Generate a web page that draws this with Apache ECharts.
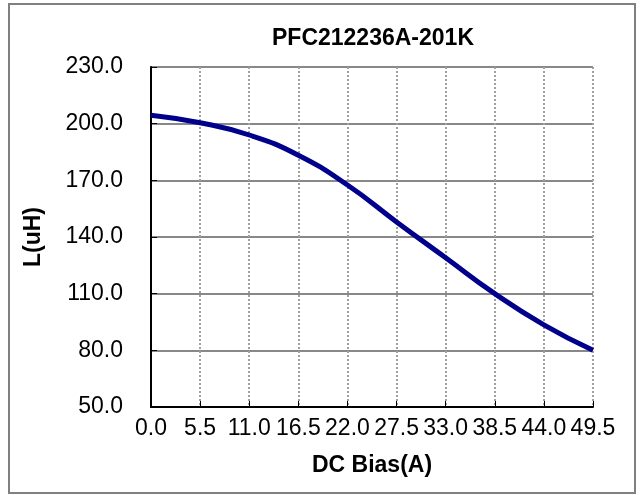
<!DOCTYPE html>
<html>
<head>
<meta charset="utf-8">
<script src="https://cdn.jsdelivr.net/npm/echarts@6/dist/echarts.min.js"></script>
<style>
  html, body { margin: 0; padding: 0; background: #fff; }
  #chart { width: 641px; height: 495px; }
</style>
</head>
<body>
<div id="chart"></div>
<script>
// DC bias current (A) and inductance (uH) at each grid line
const biasA = [0, 5.5, 11, 16.5, 22, 27.5, 33, 38.5, 44, 49.5];
const inductance = [204.5, 200.5, 194, 183.3, 167.5, 148, 129, 110, 93.5, 80];

// y axis goes 50 .. 230 step 30; plotted as offset from the base so ticks start at 50
const yBase = 50;
const yTop = 230;
const yStep = 30;
const xMax = 49.5;
const xStep = 5.5;

const font = "'Liberation Sans', Arial, sans-serif";

const chart = echarts.init(document.getElementById('chart'));

const option = {
    animation: false,
    backgroundColor: '#fff',
    title: {
        text: 'PFC212236A-201K',
        left: 373,
        top: 27,
        textAlign: 'center',
        padding: 0,
        textStyle: { fontFamily: font, fontSize: 23, fontWeight: 'bold', color: '#000' }
    },
    graphic: [{
        type: 'rect',
        shape: { x: 9, y: 4, width: 626, height: 489 },
        style: { fill: 'none', stroke: '#808080', lineWidth: 2 },
        silent: true
    }],
    grid: { left: 151, right: 48, top: 67, bottom: 88 },
    xAxis: {
        type: 'value',
        min: 0,
        max: xMax,
        interval: xStep,
        name: 'DC Bias(A)',
        nameLocation: 'middle',
        nameGap: 47,
        nameTextStyle: { fontFamily: font, fontSize: 23, fontWeight: 'bold', color: '#000' },
        axisLine: { show: true, lineStyle: { color: '#000', width: 2 } },
        axisTick: { show: true, inside: true, length: 6, lineStyle: { color: '#000' } },
        axisLabel: {
            fontFamily: font, fontSize: 23, color: '#000', margin: 10,
            formatter: v => v.toFixed(1)
        },
        splitLine: { show: true, lineStyle: { color: '#a0a0a0', width: 2, type: 'dotted' } }
    },
    yAxis: {
        type: 'value',
        min: 0,
        max: yTop - yBase,
        interval: yStep,
        name: 'L(uH)',
        nameLocation: 'middle',
        nameGap: 106,
        nameTextStyle: { fontFamily: font, fontSize: 23, fontWeight: 'bold', color: '#000' },
        axisLine: { show: true, lineStyle: { color: '#000', width: 2 } },
        axisTick: { show: true, inside: true, length: 6, lineStyle: { color: '#000' } },
        axisLabel: {
            fontFamily: font, fontSize: 23, color: '#000', margin: 28,
            formatter: v => (v + yBase).toFixed(1)
        },
        splitLine: { show: true, lineStyle: { color: '#888', width: 2 } }
    },
    series: [{
        type: 'line',
        data: biasA.map((x, i) => [x, inductance[i] - yBase]),
        smooth: 0.5,
        symbol: 'none',
        lineStyle: { color: '#00008c', width: 5 }
    }]
};

chart.setOption(option);
</script>
</body>
</html>
